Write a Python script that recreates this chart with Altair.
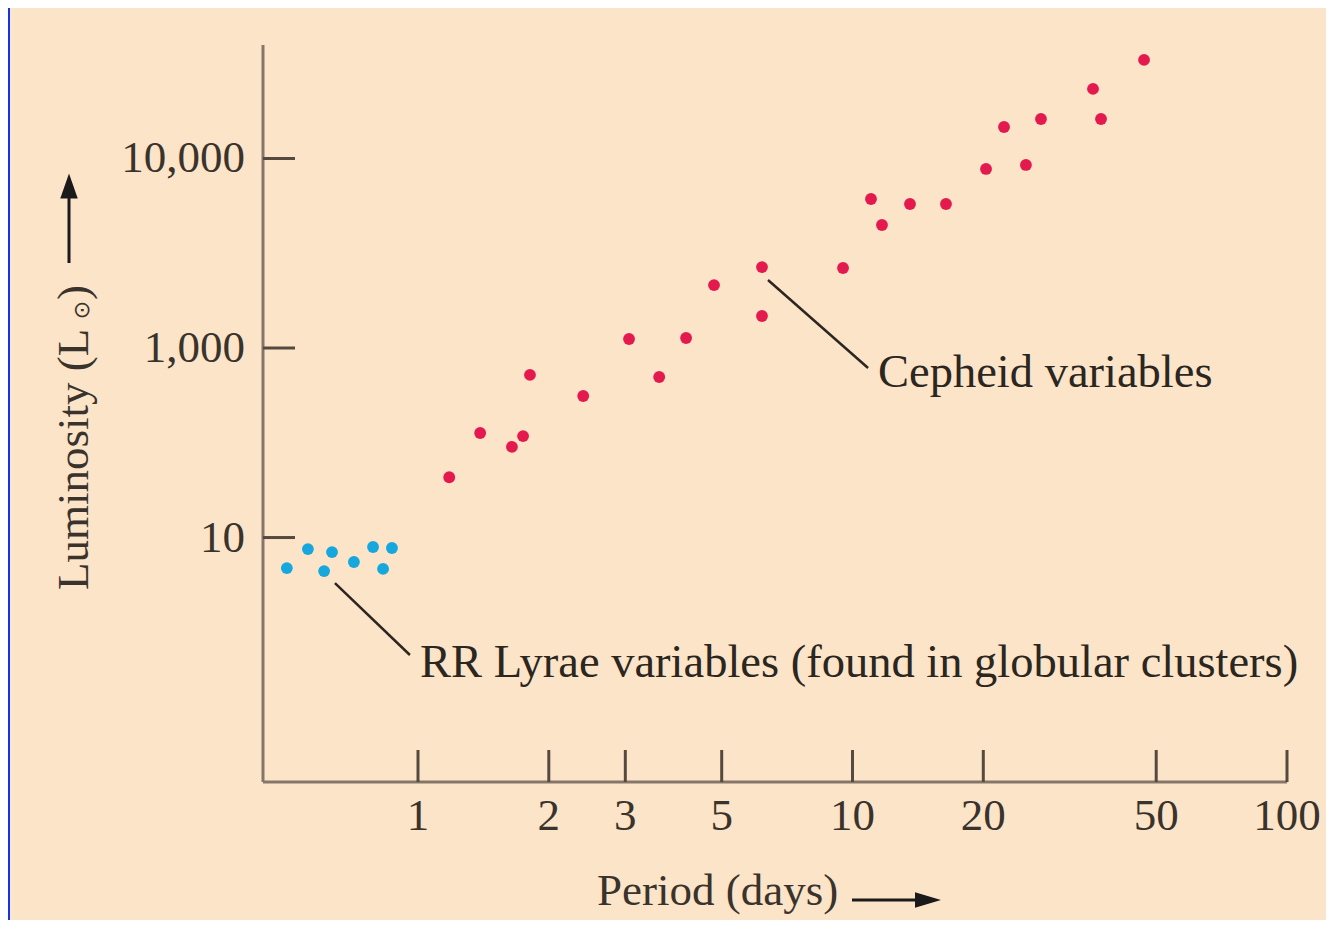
import altair as alt
import pandas as pd

# ---------------- data ----------------
cepheid_period = [1.18, 1.39, 1.645, 1.745, 1.81, 2.40, 3.06, 3.59, 4.14, 4.80,
                  6.19, 6.19, 9.51, 11.03, 11.69, 13.56, 16.41, 20.29, 22.32,
                  25.07, 27.15, 35.77, 37.32, 46.88]
cepheid_lum = [208, 356, 301, 343, 721, 558, 1116, 703, 1129, 2148,
               2673, 1476, 2643, 6110, 4457, 5754, 5754, 8806, 14660,
               9245, 16150, 23280, 16150, 33130]
rr_period = [0.499, 0.558, 0.608, 0.634, 0.712, 0.788, 0.831, 0.871]
rr_lum = [69.0, 86.9, 66.5, 83.8, 74.3, 89.1, 68.3, 88.1]

x_ticks = [1, 2, 3, 5, 10, 20, 50, 100]
x_tick_labels = ["1", "2", "3", "5", "10", "20", "50", "100"]
y_ticks = [100, 1000, 10000]
y_tick_labels = ["10", "1,000", "10,000"]

note_labels = ["Cepheid variables", "RR Lyrae variables (found in globular clusters)"]
note_period = [11.45, 1.011]
note_lum = [622, 18.4]
leader_p1 = [6.39, 0.644]
leader_l1 = [2286, 57.5]
leader_p2 = [10.86, 0.958]
leader_l2 = [784, 24.0]

x_title = "Period (days)"
y_title = "Luminosity (L"

# ---------------- tables ----------------
points = pd.DataFrame({
    "period": cepheid_period + rr_period,
    "lum": cepheid_lum + rr_lum,
    "type": ["Cepheid"] * len(cepheid_period) + ["RR Lyrae"] * len(rr_period),
})
xt = pd.DataFrame({"period": x_ticks, "label": x_tick_labels})
yt = pd.DataFrame({"lum": y_ticks, "label": y_tick_labels})
notes = pd.DataFrame({"period": note_period, "lum": note_lum, "label": note_labels})
leaders = pd.DataFrame({"p1": leader_p1, "l1": leader_l1, "p2": leader_p2, "l2": leader_l2})
one = pd.DataFrame({"a": [0]})

FONT = "Liberation Serif"
W, H = 1024, 737
PAD = {"left": 255, "top": 37, "right": 39, "bottom": 138}

x_scale = alt.Scale(type="log", domain=[0.4398, 100], nice=False)
y_scale = alt.Scale(type="log", domain=[5.13, 39700], nice=False)

X = lambda f: alt.X(f, scale=x_scale, axis=None)
Y = lambda f: alt.Y(f, scale=y_scale, axis=None)

text_col = "#3a332c"
tick_col = "#56493f"
axis_col = "#85766a"

# axis lines
y_domain = alt.Chart(one).mark_rule(color=axis_col, strokeWidth=3).encode(
    x=alt.value(0), y=alt.value(0), y2=alt.value(H))
x_domain = alt.Chart(one).mark_rule(color=axis_col, strokeWidth=3).encode(
    x=alt.value(0), x2=alt.value(W), y=alt.value(H))

# ticks (drawn inward) and tick labels, placed by the scales
xticks_layer = alt.Chart(xt).mark_rule(color=tick_col, strokeWidth=3).encode(
    x=X("period:Q"), y=alt.value(H), y2=alt.value(H - 32))
yticks_layer = alt.Chart(yt).mark_rule(color=tick_col, strokeWidth=3).encode(
    y=Y("lum:Q"), x=alt.value(0), x2=alt.value(32))
xlabels = alt.Chart(xt).mark_text(
    font=FONT, fontSize=45, align="center", baseline="alphabetic", color=text_col
).encode(x=X("period:Q"), y=alt.value(H + 48), text="label:N")
ylabels = alt.Chart(yt).mark_text(
    font=FONT, fontSize=45, align="right", baseline="middle", color=text_col
).encode(y=Y("lum:Q"), x=alt.value(-18), text="label:N")

pts = alt.Chart(points).mark_circle(size=140, opacity=1).encode(
    x=X("period:Q"),
    y=Y("lum:Q"),
    color=alt.Color("type:N", scale=alt.Scale(domain=["Cepheid", "RR Lyrae"],
                                              range=["#E41A4E", "#16A7DD"]), legend=None),
)

leader_layer = alt.Chart(leaders).mark_rule(color="#2b2620", strokeWidth=2.5).encode(
    x=X("p1:Q"), y=Y("l1:Q"), x2="p2:Q", y2="l2:Q")
note_layer = alt.Chart(notes).mark_text(
    font=FONT, fontSize=46.5, align="left", baseline="alphabetic", color="#2b2620"
).encode(x=X("period:Q"), y=Y("lum:Q"), text="label:N")

# ----- axis titles and arrows (decorations) -----
xt_text = alt.Chart(pd.DataFrame({"t": [x_title]})).mark_text(
    font=FONT, fontSize=45, align="left", baseline="alphabetic", color=text_col
).encode(x=alt.value(334), y=alt.value(860), text="t:N")
x_arrow_line = alt.Chart(one).mark_rule(color="#1a1a1a", strokeWidth=3).encode(
    x=alt.value(589), x2=alt.value(656), y=alt.value(855))
x_arrow_head = alt.Chart(one).mark_point(
    shape="M-1,-0.6L1,0L-1,0.6Z", filled=True, size=676, color="#1a1a1a", opacity=1
).encode(x=alt.value(665), y=alt.value(855))

yt_text = alt.Chart(pd.DataFrame({"t": [y_title]})).mark_text(
    font=FONT, fontSize=45, align="left", baseline="alphabetic", angle=270, color=text_col
).encode(x=alt.value(-175), y=alt.value(545), text="t:N")
y_sun = alt.Chart(pd.DataFrame({"t": ["⊙"]})).mark_text(
    font="DejaVu Sans", fontSize=22, align="center", baseline="middle", angle=270, color=text_col
).encode(x=alt.value(-181), y=alt.value(265), text="t:N")
y_paren = alt.Chart(pd.DataFrame({"t": [")"]})).mark_text(
    font=FONT, fontSize=45, align="left", baseline="alphabetic", angle=270, color=text_col
).encode(x=alt.value(-175), y=alt.value(255), text="t:N")
y_arrow_line = alt.Chart(one).mark_rule(color="#1a1a1a", strokeWidth=3).encode(
    x=alt.value(-194), y=alt.value(218), y2=alt.value(150))
y_arrow_head = alt.Chart(one).mark_point(
    shape="M-0.7,1L0,-1L0.7,1Z", filled=True, size=625, color="#1a1a1a", opacity=1
).encode(x=alt.value(-194), y=alt.value(141))

blue_strip = alt.Chart(one).mark_rect(color="#1232EE").encode(
    x=alt.value(-PAD["left"]), x2=alt.value(-PAD["left"] + 2),
    y=alt.value(-PAD["top"]), y2=alt.value(H + PAD["bottom"]))

chart = alt.layer(
    blue_strip, y_domain, x_domain, xticks_layer, yticks_layer, xlabels, ylabels,
    leader_layer, pts, note_layer,
    xt_text, x_arrow_line, x_arrow_head, yt_text, y_sun, y_paren, y_arrow_line, y_arrow_head,
).properties(
    width=W, height=H,
    autosize=alt.AutoSizeParams(type="none"),
    padding=PAD,
).configure(
    background="#FCE4C8",
).configure_view(
    strokeWidth=0,
)

chart.save("out.html", embed_options={"renderer": "svg", "actions": False})
